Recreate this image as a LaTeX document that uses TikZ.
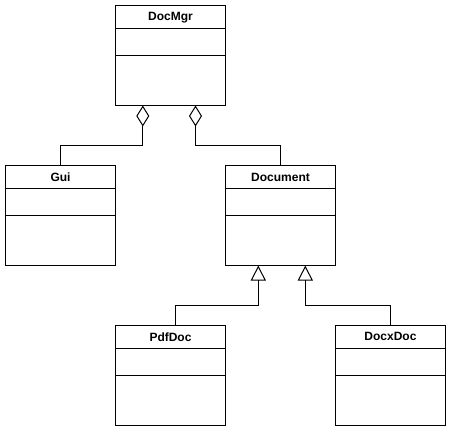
\documentclass[tikz,border=0pt]{standalone}
\usepackage{fontspec}
\setmainfont{Liberation Sans}
\usetikzlibrary{arrows.meta}
\tikzset{
  clsbox/.style={draw=black, line width=1pt, fill=white, minimum width=110pt, minimum height=100pt, inner sep=0pt, outer sep=0pt, anchor=north west},
  clstitle/.style={font=\fontsize{12}{14}\selectfont\bfseries, inner sep=0pt},
  sepline/.style={line width=1pt},
  conn/.style={line width=1pt},
  agg/.style={conn, {Diamond[open, length=21pt, width=13pt, line width=1pt]}-},
  gen/.style={conn, {Triangle[open, length=15pt, width=15pt, line width=1pt]}-}
}
\newcommand\umlcls[4]{%
  \node[clsbox] (#1) at (#2,#3) {};
  \node[clstitle] (#1-t) at ([yshift=-11.9pt]#1.north) {#4};
  \draw[sepline] ([yshift=-23.3pt]#1.north west) -- ([yshift=-23.3pt]#1.north east);
  \draw[sepline] ([yshift=-50.3pt]#1.north west) -- ([yshift=-50.3pt]#1.north east);
}
\begin{document}
\begin{tikzpicture}[x=1pt,y=-1pt]
\useasboundingbox (0,0) rectangle (453,431);
\umlcls{DocMgr}{115.5}{5.5}{DocMgr}
\umlcls{Gui}{5.5}{165.5}{Gui}
\umlcls{Document}{225.5}{165.5}{Document}
\umlcls{PdfDoc}{115.5}{325}{PdfDoc}
\umlcls{DocxDoc}{335.5}{325}{DocxDoc}
\draw[agg] ([xshift=-27.7pt]DocMgr.south) -- ++(0,39.5) -| (Gui.north);
\draw[agg] ([xshift=25pt]DocMgr.south) -- ++(0,39.5) -| (Document.north);
\draw[gen] ([xshift=-22.2pt]Document.south) -- ++(0,39.5) -| ([xshift=5pt]PdfDoc.north);
\draw[gen] ([xshift=24.8pt]Document.south) -- ++(0,39.5) -| (DocxDoc.north);
\end{tikzpicture}
\end{document}
